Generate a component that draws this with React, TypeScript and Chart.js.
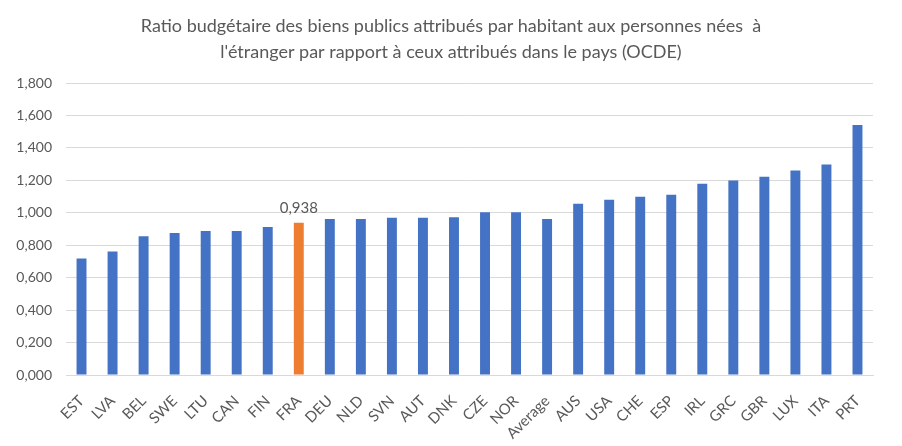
import { useEffect, useRef } from "react"
import { Chart, registerables } from "chart.js"

Chart.register(...registerables)

const countries = [
  "EST", "LVA", "BEL", "SWE", "LTU", "CAN", "FIN", "FRA", "DEU", "NLD", "SVN", "AUT", "DNK",
  "CZE", "NOR", "Average", "AUS", "USA", "CHE", "ESP", "IRL", "GRC", "GBR", "LUX", "ITA", "PRT",
]
const ratios = [
  0.718, 0.762, 0.856, 0.875, 0.887, 0.887, 0.912, 0.938, 0.961, 0.961, 0.969, 0.969, 0.973,
  1.004, 1.004, 0.961, 1.056, 1.08, 1.099, 1.111, 1.179, 1.199, 1.222, 1.261, 1.298, 1.541,
]
const highlighted = ["FRA"]
const titleLines = [
  "Ratio budgétaire des biens publics attribués par habitant aux personnes nées  à",
  "l'étranger par rapport à ceux attribués dans le pays (OCDE)",
]

const BLUE = "#4472C4"
const ORANGE = "#ED7D31"
const TEXT = "#595959"
const FONT = "Lato, 'Open Sans', sans-serif"

const fmt = (v: number) => v.toFixed(3).replace(".", ",")

// titre centré sur toute la largeur du canvas
const pageTitle = {
  id: "pageTitle",
  afterDraw(chart: Chart) {
    const ctx = chart.ctx
    ctx.save()
    ctx.font = `18px ${FONT}`
    ctx.fillStyle = TEXT
    ctx.textAlign = "center"
    ctx.textBaseline = "middle"
    titleLines.forEach((line, i) => {
      ctx.fillText(line, chart.width / 2, 26 + i * 26)
    })
    ctx.restore()
  },
}

// étiquette de valeur au-dessus des barres mises en avant
const valueLabels = {
  id: "valueLabels",
  afterDatasetsDraw(chart: Chart) {
    const ctx = chart.ctx
    const meta = chart.getDatasetMeta(0)
    ctx.save()
    ctx.font = `15px ${FONT}`
    ctx.fillStyle = TEXT
    ctx.textAlign = "center"
    ctx.textBaseline = "bottom"
    countries.forEach((c, i) => {
      if (!highlighted.includes(c)) return
      const bar = meta.data[i] as any
      ctx.fillText(fmt(ratios[i]), bar.x, bar.y - 7)
    })
    ctx.restore()
  },
}

export default function App() {
  const chartRef = useRef<HTMLCanvasElement>(null)
  const chartInstance = useRef<Chart | null>(null)

  useEffect(() => {
    if (!chartRef.current) return
    if (chartInstance.current) chartInstance.current.destroy()
    const ctx = chartRef.current.getContext("2d")
    if (!ctx) return

    chartInstance.current = new Chart(ctx, {
      type: "bar",
      data: {
        labels: countries,
        datasets: [
          {
            data: ratios,
            backgroundColor: countries.map((c) => (highlighted.includes(c) ? ORANGE : BLUE)),
            categoryPercentage: 1,
            barPercentage: 0.32,
          },
        ],
      },
      options: {
        animation: false,
        responsive: true,
        maintainAspectRatio: false,
        layout: { padding: { left: 0, right: 29, top: 83, bottom: 0 } },
        plugins: {
          legend: { display: false },
          tooltip: { enabled: false },
          title: { display: false },
        },
        scales: {
          x: {
            grid: { display: false },
            border: { display: true, color: "#D9D9D9" },
            ticks: {
              color: TEXT,
              font: { family: FONT, size: 15 },
              minRotation: 45,
              maxRotation: 45,
              autoSkip: false,
              padding: 9,
            },
            afterFit(scale: any) {
              scale.height = 71
            },
          },
          y: {
            min: 0,
            max: 1.8,
            grid: { color: "#D9D9D9", drawTicks: false },
            border: { display: false },
            ticks: {
              stepSize: 0.2,
              color: TEXT,
              font: { family: FONT, size: 14 },
              padding: 14,
              callback: (v: any) => fmt(Number(v)),
            },
            afterFit(scale: any) {
              scale.width = 66
            },
          },
        },
      },
      plugins: [pageTitle, valueLabels],
    })

    return () => {
      if (chartInstance.current) chartInstance.current.destroy()
    }
  }, [])

  return (
    <div style={{ position: "absolute", left: 0, top: 0, width: 902, height: 446, background: "#fff" }}>
      <canvas ref={chartRef} />
    </div>
  )
}
